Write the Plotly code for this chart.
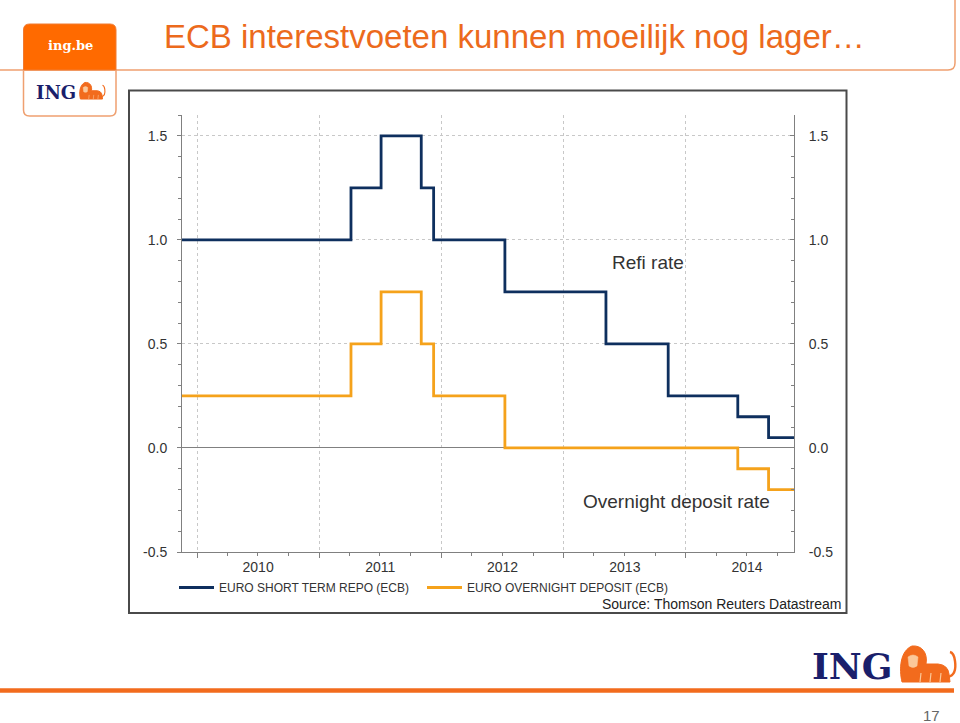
import plotly.graph_objects as go

# ---------------- data ----------------
refi_dates = ["2009-11-17", "2011-04-06", "2011-07-05", "2011-11-02", "2011-12-09",
              "2012-07-09", "2013-05-07", "2013-11-09", "2014-06-05", "2014-09-05", "2014-11-20"]
refi_values = [1.00, 1.25, 1.50, 1.25, 1.00, 0.75, 0.50, 0.25, 0.15, 0.05, 0.05]

depo_dates = ["2009-11-17", "2011-04-06", "2011-07-05", "2011-11-02", "2011-12-09",
              "2012-07-09", "2014-06-05", "2014-09-05", "2014-11-20"]
depo_values = [0.25, 0.50, 0.75, 0.50, 0.25, 0.00, -0.10, -0.20, -0.20]

y_ticks = [-0.5, 0.0, 0.5, 1.0, 1.5]
y_tick_labels = ["-0.5", "0.0", "0.5", "1.0", "1.5"]

x_range = ["2009-11-17", "2014-11-20"]
y_range = [-0.5, 1.6]

NAVY = "#0E2F5E"
AMBER = "#F5A21B"
ORANGE = "#EC6A1C"
FONT = "Liberation Sans, Arial, sans-serif"

# plot area in pixels
L, R, T, B = 182, 794, 115, 552
W, H = 960, 723


def px(x):
    return (x - L) / (R - L)


def py(y):
    return (B - y) / (B - T)


fig = go.Figure()
fig.add_trace(go.Scatter(x=refi_dates, y=refi_values, mode="lines", line_shape="hv",
                         line=dict(color=NAVY, width=2.8), name="EURO SHORT TERM REPO (ECB)",
                         xaxis="x", yaxis="y"))
fig.add_trace(go.Scatter(x=depo_dates, y=depo_values, mode="lines", line_shape="hv",
                         line=dict(color=AMBER, width=2.8), name="EURO OVERNIGHT DEPOSIT (ECB)",
                         xaxis="x", yaxis="y2"))

axis_font = dict(family=FONT, size=14, color="#333333")

shapes = []
annotations = []

# chart frame
shapes.append(dict(type="rect", xref="paper", yref="paper",
                   x0=px(129), x1=px(846.5), y0=py(613), y1=py(90.5),
                   line=dict(color="#4a4a4a", width=2), layer="below"))

# title box lines
shapes.append(dict(type="path", xref="paper", yref="paper",
                   path=f"M {px(0)},{py(70)} L {px(948)},{py(70)} Q {px(955)},{py(70)} {px(955)},{py(63)} L {px(955)},{py(-2)}",
                   line=dict(color="#EFA070", width=1.5)))

# logo box top (orange) and bottom (outline)
shapes.append(dict(type="path", xref="paper", yref="paper",
                   path=(f"M {px(23.5)},{py(70)} L {px(23.5)},{py(30)} Q {px(23.5)},{py(24)} {px(29.5)},{py(24)} "
                         f"L {px(110)},{py(24)} Q {px(116)},{py(24)} {px(116)},{py(30)} L {px(116)},{py(70)} Z"),
                   fillcolor="#FF6A00", line=dict(color="#F07A30", width=1)))
shapes.append(dict(type="path", xref="paper", yref="paper",
                   path=(f"M {px(23.5)},{py(70)} L {px(23.5)},{py(110)} Q {px(23.5)},{py(116)} {px(29.5)},{py(116)} "
                         f"L {px(110)},{py(116)} Q {px(116)},{py(116)} {px(116)},{py(110)} L {px(116)},{py(70)}"),
                   line=dict(color="#EFA070", width=1.5)))


def lion(x0, y0, s):
    # rough lying-lion silhouette, local pixel coords scaled by s
    def P(a, b):
        return f"{px(x0 + a * s)},{py(y0 + b * s)}"
    body = (f"M {P(2,37)} C {P(-1,24)} {P(0,6)} {P(12,1)} C {P(22,0)} {P(28,8)} {P(26,19)} "
            f"L {P(38,19)} Q {P(48,20)} {P(49,29)} L {P(50,37)} Z")
    tail = f"M {P(48,32)} Q {P(57,30)} {P(55,16)} Q {P(54,8)} {P(50,7)}"
    face = f"M {P(8,12)} Q {P(13,8)} {P(18,12)} L {P(17,21)} Q {P(13,24)} {P(9,21)} Z"
    legs = f"M {P(20,37)} L {P(21,28)} M {P(30,37)} L {P(31,28)} M {P(40,37)} L {P(41,28)}"
    return [dict(type="path", xref="paper", yref="paper", path=body,
                 fillcolor="#F26B1D", line=dict(color="#F26B1D", width=1)),
            dict(type="path", xref="paper", yref="paper", path=face,
                 fillcolor="#FBC89A", line=dict(color="#FBC89A", width=0.5)),
            dict(type="path", xref="paper", yref="paper", path=legs,
                 line=dict(color="#FBC89A", width=1.2 * s)),
            dict(type="path", xref="paper", yref="paper", path=tail,
                 line=dict(color="#F26B1D", width=2.4 * s))]


shapes += lion(79.5, 82, 0.46)
shapes += lion(900, 645, 1.0)

# bottom orange rule
shapes.append(dict(type="line", xref="paper", yref="paper",
                   x0=px(0), x1=px(954), y0=py(690.5), y1=py(690.5),
                   line=dict(color="#F26B1D", width=4.5)))

# texts
annotations.append(dict(text="ECB interestvoeten kunnen moeilijk nog lager…", xref="paper", yref="paper",
                        x=px(162), y=py(37), xanchor="left", yanchor="middle", showarrow=False,
                        font=dict(family=FONT, size=33, color=ORANGE)))
annotations.append(dict(text="<b>ing.be</b>", xref="paper", yref="paper",
                        x=px(70), y=py(46), xanchor="center", yanchor="middle", showarrow=False,
                        font=dict(family="DejaVu Serif, serif", size=13, color="white")))
annotations.append(dict(text="<b>ING</b>", xref="paper", yref="paper",
                        x=px(56), y=py(93), xanchor="center", yanchor="middle", showarrow=False,
                        font=dict(family="DejaVu Serif, serif", size=18, color="#1A1F6B")))
annotations.append(dict(text="<b>ING</b>", xref="paper", yref="paper",
                        x=px(852.5), y=py(666), xanchor="center", yanchor="middle", showarrow=False,
                        font=dict(family="DejaVu Serif, serif", size=36, color="#1A1F6B")))
annotations.append(dict(text="17", xref="paper", yref="paper",
                        x=px(942), y=py(715), xanchor="right", yanchor="middle", showarrow=False,
                        font=dict(family=FONT, size=15, color="#666666")))
annotations.append(dict(text="Refi rate", xref="paper", yref="paper",
                        x=px(648), y=py(262), xanchor="center", yanchor="middle", showarrow=False,
                        font=dict(family=FONT, size=19, color="#333333")))
annotations.append(dict(text="Overnight deposit rate", xref="paper", yref="paper",
                        x=px(676), y=py(501), xanchor="center", yanchor="middle", showarrow=False,
                        font=dict(family=FONT, size=19, color="#333333")))
annotations.append(dict(text="Source: Thomson Reuters Datastream", xref="paper", yref="paper",
                        x=px(843), y=py(604), xanchor="right", yanchor="middle", showarrow=False,
                        font=dict(family=FONT, size=14, color="#222222")))

fig.update_layout(
    width=W, height=H,
    margin=dict(l=L, r=W - R, t=T, b=H - B, pad=0),
    paper_bgcolor="white", plot_bgcolor="white",
    font=dict(family=FONT, color="#333333"),
    showlegend=True,
    legend=dict(orientation="h", x=px(174), y=py(573), xanchor="left", yanchor="top",
                font=dict(family=FONT, size=12, color="#333333"),
                itemwidth=35, entrywidth=198, entrywidthmode="pixels",
                bgcolor="rgba(0,0,0,0)", traceorder="normal"),
    xaxis=dict(type="date", range=x_range, tick0="2010-01-01", dtick="M12", tickformat="%Y",
               ticklabelmode="period", tickfont=axis_font, ticklabelstandoff=-3,
               ticks="outside", ticklen=5, tickcolor="#808080",
               minor=dict(dtick="M3", tick0="2010-01-01", ticks="outside", ticklen=3,
                          tickcolor="#808080", showgrid=False),
               showgrid=True, gridcolor="#C8C8C8", griddash="dot", gridwidth=1,
               showline=True, linecolor="#808080", linewidth=1, zeroline=False, fixedrange=True),
    yaxis=dict(range=y_range, tickvals=y_ticks, ticktext=y_tick_labels, tickfont=axis_font,
               ticks="outside", ticklen=4, tickcolor="#808080",
               minor=dict(dtick=0.1, tick0=0, ticks="outside", ticklen=3, tickcolor="#808080",
                          showgrid=False),
               showgrid=True, gridcolor="#C8C8C8", griddash="dot", gridwidth=1,
               zeroline=True, zerolinecolor="#808080", zerolinewidth=1,
               showline=True, linecolor="#808080", linewidth=1, ticklabelstandoff=7),
    yaxis2=dict(range=y_range, overlaying="y", side="right", anchor="x",
                tickvals=y_ticks, ticktext=y_tick_labels, tickfont=axis_font,
                ticks="inside", ticklen=4, tickcolor="#808080",
                minor=dict(dtick=0.1, tick0=0, ticks="inside", ticklen=3, tickcolor="#808080",
                           showgrid=False),
                showgrid=False, zeroline=False,
                showline=True, linecolor="#808080", linewidth=1, ticklabelstandoff=11),
    shapes=shapes,
    annotations=annotations,
)

fig.write_html("out.html", config={"displayModeBar": False},
               post_script="document.body.style.margin='0px';")
